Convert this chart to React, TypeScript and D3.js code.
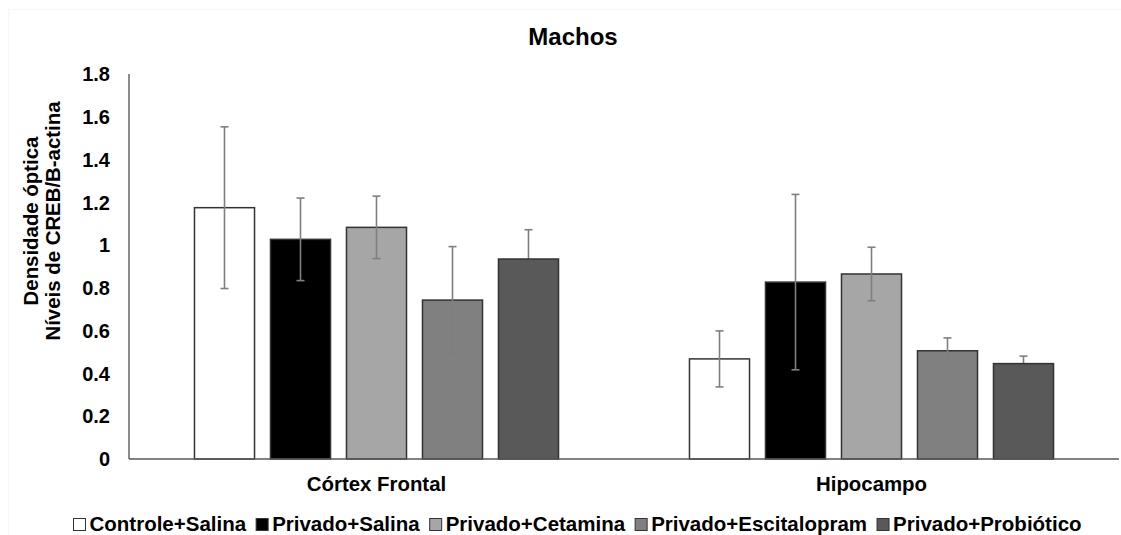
import React from "react";
import * as d3 from "d3";

const categories = ["Córtex Frontal", "Hipocampo"];
const seriesNames = [
  "Controle+Salina",
  "Privado+Salina",
  "Privado+Cetamina",
  "Privado+Escitalopram",
  "Privado+Probiótico",
];
// values per series: [Córtex Frontal, Hipocampo]
const controleSalina = [1.175, 0.468];
const privadoSalina = [1.027, 0.827];
const privadoCetamina = [1.083, 0.865];
const privadoEscitalopram = [0.743, 0.506];
const privadoProbiotico = [0.935, 0.446];
// error (±) per series
const errControleSalina = [0.378, 0.131];
const errPrivadoSalina = [0.193, 0.41];
const errPrivadoCetamina = [0.146, 0.125];
const errPrivadoEscitalopram = [0.25, 0.06];
const errPrivadoProbiotico = [0.137, 0.035];

const yTicks = [0, 0.2, 0.4, 0.6, 0.8, 1, 1.2, 1.4, 1.6, 1.8];
const seriesColors = ["#ffffff", "#000000", "#a6a6a6", "#808080", "#595959"];

const values = [controleSalina, privadoSalina, privadoCetamina, privadoEscitalopram, privadoProbiotico];
const errors = [errControleSalina, errPrivadoSalina, errPrivadoCetamina, errPrivadoEscitalopram, errPrivadoProbiotico];

const W = 1121;
const H = 535;
const FONT = "'Liberation Sans', Arial, sans-serif";
const LEG_FS = 20.5;

function measure(text: string, size: number): number {
  if (typeof document === "undefined") return text.length * size * 0.55;
  const c = document.createElement("canvas");
  const ctx = c.getContext("2d")!;
  ctx.font = `bold ${size}px 'Liberation Sans', Arial, sans-serif`;
  return ctx.measureText(text).width;
}

export default function App() {
  const x0 = d3.scaleBand<string>().domain(categories).range([129, 1119]).paddingInner(0).paddingOuter(0);
  const innerWidth = 380;
  const x1 = d3
    .scaleBand<string>()
    .domain(seriesNames)
    .range([0, innerWidth])
    .paddingInner(0.21)
    .paddingOuter(0.105);
  const y = d3.scaleLinear().domain([0, 1.8]).range([459, 74]);
  const fmt = (v: number) => d3.format("~g")(v);

  const bars: React.ReactNode[] = [];
  categories.forEach((cat, ci) => {
    const gx = (x0(cat) as number) + x0.bandwidth() / 2 - innerWidth / 2;
    seriesNames.forEach((s, si) => {
      const v = values[si][ci];
      const e = errors[si][ci];
      const bx = gx + (x1(s) as number);
      const bw = x1.bandwidth();
      const cx = bx + bw / 2;
      const err = (
        <g key={`e-${ci}-${si}`} stroke="#7f7f7f" strokeWidth={1.6}>
          <line x1={cx} x2={cx} y1={y(v + e)} y2={y(v - e)} />
          <line x1={cx - 4} x2={cx + 4} y1={y(v + e)} y2={y(v + e)} />
          <line x1={cx - 4} x2={cx + 4} y1={y(v - e)} y2={y(v - e)} />
        </g>
      );
      const rect = (
        <rect
          key={`b-${ci}-${si}`}
          x={bx}
          y={y(v)}
          width={bw}
          height={y(0) - y(v)}
          fill={seriesColors[si]}
          stroke="#333333"
          strokeWidth={1.5}
        />
      );
      if (si === seriesNames.length - 1) {
        bars.push(err, rect);
      } else {
        bars.push(rect, err);
      }
    });
  });

  // legend layout
  let lx = 73;
  const legendItems = seriesNames.map((s, i) => {
    const tw = measure(s, LEG_FS);
    const item = (
      <g key={s}>
        <rect x={lx + 0.5} y={518.5} width={12} height={12} fill={seriesColors[i]} stroke="#333333" strokeWidth={1} />
        <text x={lx + 16.5} y={531} fontSize={LEG_FS} fontWeight="bold" fill="#000">
          {s}
        </text>
      </g>
    );
    lx += 16.5 + tw + 9.5;
    return item;
  });

  return (
    <svg
      width={W}
      height={H}
      style={{ position: "absolute", left: 0, top: 0, background: "#fff" }}
      fontFamily={FONT}
    >
      <rect x={0} y={0} width={W} height={H} fill="#ffffff" />
      <rect x={8.5} y={9.5} width={W} height={H} fill="none" stroke="#f7f7f7" strokeWidth={1} />
      <text x={573} y={45} textAnchor="middle" fontSize={24} fontWeight="bold" fill="#000">
        Machos
      </text>
      <text transform="translate(38,221) rotate(-90)" textAnchor="middle" fontSize={20.4} fontWeight="bold" fill="#000">
        Densidade óptica
      </text>
      <text transform="translate(60,221) rotate(-90)" textAnchor="middle" fontSize={20.4} fontWeight="bold" fill="#000">
        Níveis de CREB/B-actina
      </text>
      {yTicks.map((t) => (
        <text
          key={t}
          x={110}
          y={y(t)}
          dy="0.36em"
          textAnchor="end"
          fontSize={20}
          fontWeight="bold"
          fill="#000"
        >
          {fmt(t)}
        </text>
      ))}
      <line x1={129} x2={129} y1={y(1.8)} y2={y(0)} stroke="#404040" strokeWidth={1.2} />
      {bars}
      <line x1={129} x2={1119} y1={y(0)} y2={y(0)} stroke="#595959" strokeWidth={1.5} />
      {categories.map((c) => (
        <text
          key={c}
          x={(x0(c) as number) + x0.bandwidth() / 2}
          y={491}
          textAnchor="middle"
          fontSize={20.4}
          fontWeight="bold"
          fill="#000"
        >
          {c}
        </text>
      ))}
      {legendItems}
    </svg>
  );
}
